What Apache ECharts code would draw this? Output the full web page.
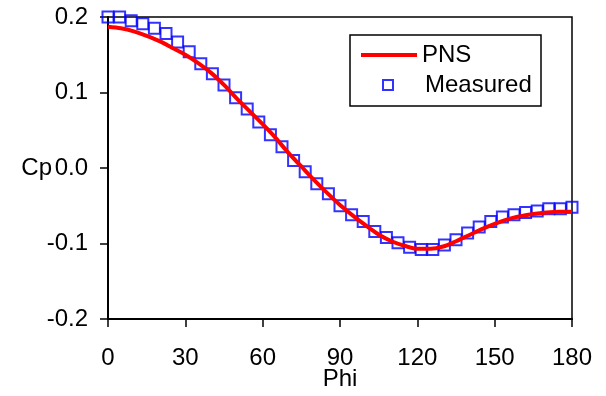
<!DOCTYPE html>
<html>
<head>
<meta charset="utf-8">
<script src="https://cdn.jsdelivr.net/npm/echarts@6/dist/echarts.min.js"></script>
<style>html,body{margin:0;padding:0;background:#fff;overflow:hidden}#c{width:606px;height:396px}</style>
</head>
<body>
<div id="c"></div>
<script>
// PNS curve (every 5 degrees)
const pnsPhi = [0,5,10,15,20,25,30,35,40,45,50,55,60,65,70,75,80,85,90,95,100,105,110,115,120,125,130,135,140,145,150,155,160,165,170,175,180];
const pnsCp = [0.187,0.185,0.181,0.175,0.168,0.159,0.150,0.139,0.126,0.110,0.092,0.075,0.058,0.040,0.020,0.002,-0.016,-0.033,-0.049,-0.063,-0.076,-0.088,-0.097,-0.103,-0.107,-0.107,-0.104,-0.097,-0.089,-0.081,-0.074,-0.068,-0.064,-0.061,-0.059,-0.058,-0.058];
// Measured (every 4.5 degrees)
const measPhi = [0,4.5,9,13.5,18,22.5,27,31.5,36,40.5,45,49.5,54,58.5,63,67.5,72,76.5,81,85.5,90,94.5,99,103.5,108,112.5,117,121.5,126,130.5,135,139.5,144,148.5,153,157.5,162,166.5,171,175.5,180];
const measCp = [0.200,0.200,0.195,0.191,0.185,0.178,0.167,0.154,0.138,0.125,0.110,0.093,0.078,0.061,0.044,0.028,0.010,-0.005,-0.021,-0.034,-0.050,-0.062,-0.071,-0.084,-0.092,-0.099,-0.105,-0.108,-0.108,-0.102,-0.095,-0.086,-0.078,-0.071,-0.065,-0.062,-0.059,-0.057,-0.054,-0.054,-0.052];
const xTicks = {min:0, max:180, interval:30};
const yTicks = {min:-0.2, max:0.2, interval:0.1};

const FONT = 'Liberation Sans, Arial, sans-serif';
const chart = echarts.init(document.getElementById('c'), null, {renderer:'canvas'});
chart.setOption({
  animation:false,
  backgroundColor:'#fff',
  grid:{left:108, right:34, top:17, bottom:73, show:true, borderColor:'#000', borderWidth:1.5, backgroundColor:'transparent'},
  xAxis:{type:'value', min:xTicks.min, max:xTicks.max, interval:xTicks.interval,
    name:'Phi', nameLocation:'middle', nameGap:48, nameMoveOverlap:false,
    nameTextStyle:{color:'#000', fontSize:24, fontFamily:FONT},
    axisLine:{show:true, onZero:false, lineStyle:{color:'#000', width:2}},
    axisTick:{show:true, inside:false, length:8, lineStyle:{color:'#000', width:1.5}},
    axisLabel:{color:'#000', fontSize:24, fontFamily:FONT, margin:27},
    splitLine:{show:false}},
  yAxis:{type:'value', min:yTicks.min, max:yTicks.max, interval:yTicks.interval,
    name:'Cp', nameLocation:'middle', nameRotate:0, nameGap:56, nameMoveOverlap:false,
    nameTextStyle:{color:'#000', fontSize:24, fontFamily:FONT},
    axisLine:{show:true, onZero:false, lineStyle:{color:'#000', width:2}},
    axisTick:{show:true, inside:false, length:8, lineStyle:{color:'#000', width:1.5}},
    axisLabel:{color:'#000', fontSize:24, fontFamily:FONT, margin:20, formatter:v=>v.toFixed(1)},
    splitLine:{show:false}},
  graphic:[
    {type:'rect', z:3, shape:{x:350, y:35, width:191, height:71}, style:{fill:'#fff', stroke:'#000', lineWidth:1.5}}
  ],
  legend:[
    {orient:'vertical', left:361, top:43, padding:0, itemWidth:56, itemHeight:4, z:5,
      textStyle:{color:'#000', fontSize:24, fontFamily:FONT, lineHeight:24},
      data:[{name:'PNS', icon:'rect', itemStyle:{color:'#ff0000', borderWidth:0}}]},
    {orient:'vertical', left:382, top:73, padding:0, itemWidth:10, itemHeight:10, z:5,
      formatter:'{a|{name}}',
      textStyle:{color:'#000', fontSize:24, fontFamily:FONT, lineHeight:24,
        rich:{a:{fontSize:24, fontFamily:FONT, color:'#000', padding:[0,0,0,27]}}},
      data:[{name:'Measured', icon:'rect', itemStyle:{color:'rgba(0,0,0,0)', borderColor:'#0000ff', borderWidth:2}}]}
  ],
  series:[
    {name:'Measured', type:'scatter', symbol:'rect', symbolSize:11, z:2,
      itemStyle:{color:'rgba(0,0,0,0)', borderColor:'#0000ff', borderWidth:2},
      data:measPhi.map((p,i)=>[p, measCp[i]])},
    {name:'PNS', type:'line', showSymbol:false, symbol:'none', smooth:0.3, z:3,
      lineStyle:{color:'#ff0000', width:4}, itemStyle:{color:'#ff0000'},
      data:pnsPhi.map((p,i)=>[p, pnsCp[i]])}
  ]
});
</script>
</body>
</html>
